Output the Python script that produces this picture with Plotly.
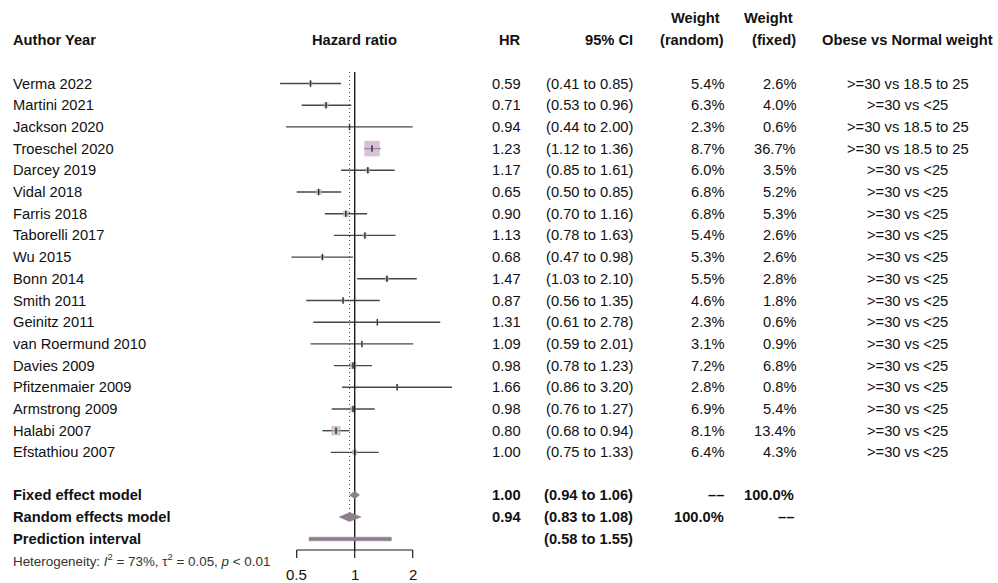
import math
import plotly.graph_objects as go

# ---- study data -------------------------------------------------------------
studies = ["Verma 2022", "Martini 2021", "Jackson 2020", "Troeschel 2020", "Darcey 2019",
           "Vidal 2018", "Farris 2018", "Taborelli 2017", "Wu 2015", "Bonn 2014",
           "Smith 2011", "Geinitz 2011", "van Roermund 2010", "Davies 2009",
           "Pfitzenmaier 2009", "Armstrong 2009", "Halabi 2007", "Efstathiou 2007"]
hr = [0.59, 0.71, 0.94, 1.23, 1.17, 0.65, 0.90, 1.13, 0.68, 1.47,
      0.87, 1.31, 1.09, 0.98, 1.66, 0.98, 0.80, 1.00]
ci_low = [0.41, 0.53, 0.44, 1.12, 0.85, 0.50, 0.70, 0.78, 0.47, 1.03,
          0.56, 0.61, 0.59, 0.78, 0.86, 0.76, 0.68, 0.75]
ci_high = [0.85, 0.96, 2.00, 1.36, 1.61, 0.85, 1.16, 1.63, 0.98, 2.10,
           1.35, 2.78, 2.01, 1.23, 3.20, 1.27, 0.94, 1.33]
weight_random = [5.4, 6.3, 2.3, 8.7, 6.0, 6.8, 6.8, 5.4, 5.3, 5.5,
                 4.6, 2.3, 3.1, 7.2, 2.8, 6.9, 8.1, 6.4]
weight_fixed = [2.6, 4.0, 0.6, 36.7, 3.5, 5.2, 5.3, 2.6, 2.6, 2.8,
                1.8, 0.6, 0.9, 6.8, 0.8, 5.4, 13.4, 4.3]
comparison = [">=30 vs 18.5 to 25", ">=30 vs <25", ">=30 vs 18.5 to 25", ">=30 vs 18.5 to 25"] + \
             [">=30 vs <25"] * 14

# pooled estimates
fixed_est, fixed_lo, fixed_hi = 1.00, 0.94, 1.06
random_est, random_lo, random_hi = 0.94, 0.83, 1.08
pred_lo, pred_hi = 0.58, 1.55
axis_ticks = [0.5, 1, 2]
heterogeneity = "Heterogeneity: <i>I</i><sup>2</sup> = 73%, τ<sup>2</sup> = 0.05, <i>p</i> &lt; 0.01"
NA = "\u2013\u2013"

# ---- layout geometry (pixels) ----------------------------------------------
W, H = 998, 583
ROW0, ROWH = 83.5, 21.7          # y of first study row, row spacing
FONT = "Liberation Sans, Arial, sans-serif"
FS = 14.7

def row_of(py):
    return (py - ROW0) / ROWH

def px(xp):
    return xp / W

n = len(studies)
rows = list(range(n))
r_fixed, r_random, r_pred = row_of(495), row_of(517), row_of(539)
r_axis = row_of(550)
r_het = row_of(560)
r_ticklab = row_of(574)
r_top = row_of(72)

# log x-axis: value 1 at x=354.7 px, one doubling = 58 px
x_one, per_log10 = 354.7, 58 / math.log10(2)
x_left, x_right = 260, 460
xrange_log = [(x_left - x_one) / per_log10, (x_right - x_one) / per_log10]

fig = go.Figure()

# confidence-interval lines
cx, cy = [], []
for r, lo_, hi_ in zip(rows, ci_low, ci_high):
    cx += [lo_, hi_, None]
    cy += [r, r, None]
fig.add_trace(go.Scatter(x=cx, y=cy, mode="lines",
                         line=dict(color="#474747", width=1.4), hoverinfo="skip"))

# weighted squares (area proportional to fixed-effect weight)
max_w = max(weight_fixed)
sizes = [15.5 * math.sqrt(w / max_w) for w in weight_fixed]
fig.add_trace(go.Scatter(x=hr, y=rows, mode="markers",
                         marker=dict(symbol="square", size=sizes, color="#c9a8c9",
                                     line=dict(width=0)),
                         hoverinfo="skip"))

# point-estimate ticks
tx, ty = [], []
for r, h in zip(rows, hr):
    tx += [h, h, None]
    ty += [r - 0.15, r + 0.15, None]
fig.add_trace(go.Scatter(x=tx, y=ty, mode="lines",
                         line=dict(color="#2a2a2a", width=1.4), hoverinfo="skip"))

# reference lines: no effect (solid) and random-effects estimate (dotted)
fig.add_trace(go.Scatter(x=[1, 1], y=[r_top, r_axis], mode="lines",
                         line=dict(color="#1a1a1a", width=1.4), hoverinfo="skip"))
fig.add_trace(go.Scatter(x=[random_est, random_est], y=[r_top, r_random - 0.15], mode="lines",
                         line=dict(color="#555555", width=1.1, dash="1px,3px"), hoverinfo="skip"))

# pooled diamonds
def diamond(est, lo_, hi_, r, half):
    return [lo_, est, hi_, est, lo_], [r, r - half, r, r + half, r]

DIAM = "#8d7d8d"
for est, lo_, hi_, r, half in [(fixed_est, fixed_lo, fixed_hi, r_fixed, 0.17),
                               (random_est, random_lo, random_hi, r_random, 0.21)]:
    dx, dy = diamond(est, lo_, hi_, r, half)
    fig.add_trace(go.Scatter(x=dx, y=dy, mode="lines", fill="toself", fillcolor=DIAM,
                             line=dict(color=DIAM, width=0.5), hoverinfo="skip"))

# prediction interval bar
fig.add_trace(go.Scatter(x=[pred_lo, pred_hi, pred_hi, pred_lo, pred_lo],
                         y=[r_pred - 0.085, r_pred - 0.085, r_pred + 0.085, r_pred + 0.085, r_pred - 0.085],
                         mode="lines", fill="toself", fillcolor=DIAM,
                         line=dict(color=DIAM, width=0.5), hoverinfo="skip"))

# x axis drawn as a bracket from first to last tick
fig.add_trace(go.Scatter(x=[axis_ticks[0], axis_ticks[-1]], y=[r_axis, r_axis], mode="lines",
                         line=dict(color="#1a1a1a", width=1.2), hoverinfo="skip"))
kx, ky = [], []
for t in axis_ticks:
    kx += [t, t, None]
    ky += [r_axis, r_axis + 8 / ROWH, None]
fig.add_trace(go.Scatter(x=kx, y=ky, mode="lines",
                         line=dict(color="#1a1a1a", width=1.2), hoverinfo="skip"))

ann = []

def text(xp, y, s, anchor="left", bold=False, size=FS, color="#111111"):
    ann.append(dict(x=px(xp), y=y, xref="paper", yref="y", text=f"<b>{s}</b>" if bold else s,
                    showarrow=False, xanchor=anchor, yanchor="middle",
                    font=dict(family=FONT, size=size, color=color)))

for t in axis_ticks:
    ann.append(dict(x=math.log10(t), y=r_ticklab, xref="x", yref="y", text=f"{t:g}",
                    showarrow=False, xanchor="center", yanchor="middle",
                    font=dict(family=FONT, size=15, color="#111111")))

# column positions
X_NAME, X_HR, X_CI, X_WR, X_WF, X_CMP = 11, 523, 635, 726, 798, 907.5

# header
r_h1, r_h0 = row_of(40), row_of(18)
text(X_NAME, r_h1, "Author Year", bold=True)
text(x_one, r_h1, "Hazard ratio", anchor="center", bold=True)
text(X_HR, r_h1, "HR", anchor="right", bold=True)
text(X_CI, r_h1, "95% CI", anchor="right", bold=True)
text(722, r_h0, "Weight", anchor="right", bold=True)
text(X_WR, r_h1, "(random)", anchor="right", bold=True)
text(795, r_h0, "Weight", anchor="right", bold=True)
text(X_WF, r_h1, "(fixed)", anchor="right", bold=True)
text(X_CMP, r_h1, "Obese vs Normal weight", anchor="center", bold=True)

def esc(s):
    return s.replace("<", "&lt;").replace(">", "&gt;")

for r in rows:
    text(X_NAME, r, studies[r])
    text(X_HR, r, f"{hr[r]:.2f}", anchor="right")
    text(X_CI, r, f"({ci_low[r]:.2f} to {ci_high[r]:.2f})", anchor="right")
    text(X_WR, r, f"{weight_random[r]:.1f}%", anchor="right")
    text(X_WF, r, f"{weight_fixed[r]:.1f}%", anchor="right")
    text(X_CMP, r, esc(comparison[r]), anchor="center")

# pooled rows
text(X_NAME, r_fixed, "Fixed effect model", bold=True)
text(X_HR, r_fixed, f"{fixed_est:.2f}", anchor="right", bold=True)
text(X_CI, r_fixed, f"({fixed_lo:.2f} to {fixed_hi:.2f})", anchor="right", bold=True)
text(X_WR, r_fixed, NA, anchor="right", bold=True)
text(X_WF - 2, r_fixed, "100.0%", anchor="right", bold=True)

text(X_NAME, r_random, "Random effects model", bold=True)
text(X_HR, r_random, f"{random_est:.2f}", anchor="right", bold=True)
text(X_CI, r_random, f"({random_lo:.2f} to {random_hi:.2f})", anchor="right", bold=True)
text(X_WR, r_random, "100.0%", anchor="right", bold=True)
text(X_WF - 2, r_random, NA, anchor="right", bold=True)

text(X_NAME, r_pred, "Prediction interval", bold=True)
text(X_CI, r_pred, f"({pred_lo:.2f} to {pred_hi:.2f})", anchor="right", bold=True)

text(X_NAME, r_het, heterogeneity, size=13.4, color="#333333")

fig.update_layout(
    width=W, height=H,
    margin=dict(l=0, r=0, t=0, b=0),
    paper_bgcolor="white", plot_bgcolor="white",
    showlegend=False,
    xaxis=dict(type="log", domain=[px(x_left), px(x_right)], range=xrange_log,
               visible=False, fixedrange=True),
    yaxis=dict(range=[row_of(H), row_of(0)], domain=[0, 1], visible=False, fixedrange=True),
    annotations=ann,
)

fig.write_html("out.html")
